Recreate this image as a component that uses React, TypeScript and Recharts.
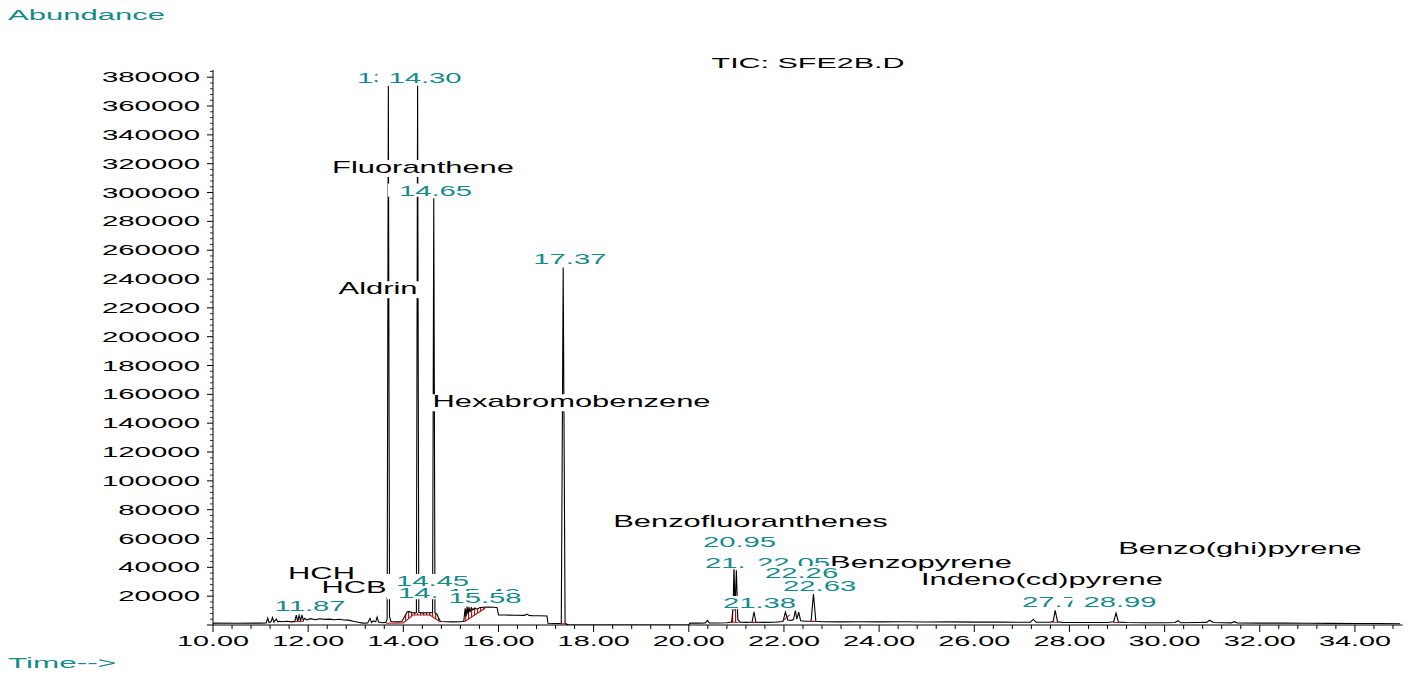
import React from 'react';
import { ComposedChart, Line, Area, Scatter, XAxis, YAxis } from 'recharts';

const WIDTH = 1414;
const HEIGHT = 675;
const TEAL = '#168b8b';
const RED = '#a81818';
const FONT = '"Liberation Sans", Arial, Helvetica, sans-serif';

// Total ion chromatogram: [retention time (min), abundance]
const ticTrace: [number, number][] = [
  [10.0, 1300], [10.5, 1200], [11.0, 1300], [11.12, 1400], [11.15, 4800], [11.18, 1600],
  [11.22, 2400], [11.25, 5200], [11.28, 2000], [11.33, 4200], [11.36, 2200], [11.4, 2600],
  [11.45, 2300], [11.55, 2600], [11.65, 2200], [11.72, 2500], [11.75, 6900], [11.78, 2600],
  [11.81, 6600], [11.84, 3000], [11.87, 7000], [11.9, 3200], [11.93, 4700], [11.97, 3600],
  [12.05, 4400], [12.15, 3700], [12.25, 4300], [12.35, 3900], [12.45, 4100], [12.55, 3600],
  [12.65, 4000], [12.75, 3500], [12.85, 3400], [12.95, 2600], [13.05, 1900], [13.15, 1300],
  [13.25, 1400], [13.3, 4600], [13.33, 1800], [13.37, 2800], [13.42, 2200], [13.45, 5600],
  [13.48, 2000], [13.55, 1600], [13.63, 1800], [13.66, 4000], [13.685, 374000], [13.71, 6000],
  [13.74, 2400], [13.8, 2300], [13.9, 2200], [13.97, 2400], [14.03, 6000], [14.08, 9000],
  [14.12, 9400], [14.18, 8600], [14.24, 8400], [14.275, 8600], [14.3, 374000], [14.325, 8800],
  [14.4, 8400], [14.5, 8500], [14.6, 8600], [14.615, 8800], [14.64, 296000], [14.665, 8400],
  [14.7, 7800], [14.74, 5000], [14.78, 2400], [14.9, 2300], [15.05, 2200], [15.2, 2300],
  [15.27, 2600], [15.3, 11500], [15.32, 6000], [15.34, 12800], [15.36, 7500], [15.38, 12500],
  [15.4, 9000], [15.43, 12000], [15.46, 10500], [15.5, 11800], [15.55, 11000], [15.6, 12000],
  [15.67, 12300], [15.8, 12500], [15.97, 12200], [16.0, 7000], [16.15, 6900], [16.35, 6800],
  [16.55, 6700], [16.6, 7600], [16.64, 6600], [16.7, 6500], [16.85, 6400], [17.02, 6200],
  [17.04, 1200], [17.2, 1000], [17.32, 1100], [17.36, 248000], [17.4, 1000], [17.48, 0],
  [18.0, 0], [19.0, 0], [20.0, 0], [20.02, 1300], [20.2, 1300], [20.35, 1500],
  [20.39, 3200], [20.43, 1500], [20.6, 1400], [20.8, 1600], [20.9, 2000], [20.93, 12000],
  [20.95, 41000], [20.97, 10000], [21.0, 38000], [21.03, 4000], [21.08, 2000], [21.2, 1800],
  [21.33, 1900], [21.37, 9200], [21.41, 1900], [21.6, 1800], [21.8, 1900], [21.98, 2400],
  [22.03, 9000], [22.08, 3500], [22.16, 3200], [22.2, 3800], [22.24, 10000], [22.27, 4000],
  [22.31, 9000], [22.35, 3000], [22.45, 2600], [22.57, 2700], [22.62, 21500], [22.67, 2600],
  [22.8, 2300], [23.2, 2200], [23.6, 2300], [24.0, 2200], [24.5, 2300], [25.0, 2100],
  [25.5, 2200], [26.0, 2000], [26.5, 2000], [27.0, 1900], [27.18, 2000], [27.24, 4000],
  [27.3, 1900], [27.6, 1900], [27.66, 2600], [27.7, 10200], [27.75, 2300], [27.85, 1800],
  [28.3, 1700], [28.8, 1700], [28.93, 2300], [28.98, 8300], [29.03, 2000], [29.2, 1700],
  [29.6, 1600], [30.0, 1600], [30.22, 1700], [30.28, 3000], [30.34, 1600], [30.7, 1700],
  [30.88, 1800], [30.95, 3300], [31.02, 1700], [31.4, 1500], [31.47, 2300], [31.53, 1400],
  [32.0, 1300], [32.5, 1300], [33.0, 1200], [33.5, 1100], [34.0, 1000], [34.5, 1000],
  [34.95, 900],
];

// Integration baselines drawn by the data system: [time, abundance]
const integrationSegments: [number, number][][] = [
  [[11.72, 2300], [11.9, 2600]],
  [[13.64, 1200], [14.0, 1500], [14.2, 6900], [14.56, 6900], [14.77, 2300]],
  [[15.28, 2300], [15.72, 11600]],
  [[17.3, 900], [17.44, 900]],
  [[20.88, 1900], [21.06, 1900]],
  [[21.33, 1800], [21.42, 1800]],
  [[21.95, 2200], [22.12, 7000]],
  [[22.57, 2500], [22.68, 2500]],
  [[27.64, 1900], [27.78, 1900]],
  [[28.92, 1700], [29.05, 1700]],
];

// Hatched integrated areas: [time, baseline, signal]
const hatchRegions: [number, number, number][][] = [
  [[11.75, 2350, 6900], [11.78, 2400, 2600], [11.81, 2450, 6600], [11.84, 2500, 3000], [11.87, 2550, 7000], [11.9, 2600, 3200]],
  [[14.03, 2310, 6000], [14.08, 3660, 9000], [14.12, 4740, 9400], [14.18, 6360, 8600], [14.24, 6900, 8400],
   [14.4, 6900, 8400], [14.5, 6900, 8500], [14.6, 6020, 8600], [14.665, 4600, 8400], [14.7, 3850, 7800],
   [14.74, 2970, 5000], [14.77, 2300, 2500]],
  [[15.3, 2300, 11500], [15.32, 2740, 6000], [15.34, 3190, 12800], [15.36, 3630, 7500], [15.38, 4070, 12500],
   [15.4, 4510, 9000], [15.43, 5180, 12000], [15.46, 5840, 10500], [15.5, 6730, 11800], [15.55, 7830, 11000],
   [15.6, 8940, 12000], [15.67, 10490, 12300], [15.72, 11600, 12350]],
  [[20.9, 1900, 2000], [20.93, 1900, 12000], [20.95, 1900, 41000], [20.97, 1900, 10000], [21.0, 1900, 38000], [21.03, 1900, 4000]],
];

// Retention-time labels (teal), drawn in this order
const rtLabels = ['11.87', '13.70', '14.30', '14.65', '17.37', '14.58', '14.45', '15.43', '15.58',
  '20.95', '21.02', '22.05', '22.26', '22.63', '21.38', '27.74', '28.99'];
const rtTimes = [12.04, 13.794, 14.456, 14.676, 17.5, 14.655, 14.613, 15.7, 15.717,
  21.066, 21.107, 22.2, 22.37, 22.75, 21.487, 27.77, 29.063];
const rtAbundances = [9900, 376300, 376300, 297900, 250100, 18700, 27050, 18035, 15260,
  54100, 39500, 39500, 32600, 23600, 11800, 12500, 12500];

// Compound names (black)
const compoundNames = ['HCH', 'HCB', 'Fluoranthene', 'Aldrin', 'Hexabromobenzene',
  'Benzofluoranthenes', 'Benzopyrene', 'Indeno(cd)pyrene', 'Benzo(ghi)pyrene'];
const compoundTimes = [12.28, 12.963, 14.414, 13.468, 17.535, 21.297, 24.88, 27.423, 31.584];
const compoundAbundances = [31900, 22200, 313700, 229600, 151200, 68000, 39500, 27750, 49200];

const xMajorValues = [10, 12, 14, 16, 18, 20, 22, 24, 26, 28, 30, 32, 34];
const xMajorLabels = ['10.00', '12.00', '14.00', '16.00', '18.00', '20.00', '22.00', '24.00',
  '26.00', '28.00', '30.00', '32.00', '34.00'];
const yMajorValues = [20000, 40000, 60000, 80000, 100000, 120000, 140000, 160000, 180000, 200000,
  220000, 240000, 260000, 280000, 300000, 320000, 340000, 360000, 380000];
const yMajorLabels = ['20000', '40000', '60000', '80000', '100000', '120000', '140000', '160000',
  '180000', '200000', '220000', '240000', '260000', '280000', '300000', '320000', '340000',
  '360000', '380000'];

const xTicks = Array.from({ length: 63 }, (_, i) => (100 + 4 * i) / 10);
const yTicks = Array.from({ length: 97 }, (_, i) => i * 4000);

const GLYPH: Record<string, number> = {
  '.': 0.278, ':': 0.278, ' ': 0.278, '(': 0.333, ')': 0.333, '-': 0.333, '>': 0.584,
  i: 0.222, l: 0.222, j: 0.222, f: 0.278, t: 0.278, r: 0.333, m: 0.833, w: 0.722,
  s: 0.5, c: 0.5, z: 0.5, y: 0.5, x: 0.5, k: 0.5, v: 0.5,
  I: 0.278, F: 0.611, T: 0.611, C: 0.722, D: 0.722, H: 0.722, G: 0.778, O: 0.778,
};
const textWidth = (s: string, fs: number) =>
  s.split('').reduce((acc, c) => acc + (GLYPH[c] ?? (c >= 'A' && c <= 'Z' ? 0.667 : 0.556)), 0) * fs;

function StretchText({ x, y, sx, fs, fill, anchor, children }: any) {
  return (
    <text transform={`translate(${x},${y}) scale(${sx},1)`} fontSize={fs} fill={fill}
      textAnchor={anchor} fontFamily={FONT}>{children}</text>
  );
}

function BoxedLabel({ cx, cy, text, fill, fs, sx, descend }: any) {
  if (cx == null || cy == null) return null;
  const w = textWidth(text, fs) * sx;
  const top = cy - 0.8 * fs;
  const h = 0.8 * fs + (descend ? 0.26 * fs : 0.08 * fs);
  const padLeft = 11;
  const padRight = 2;
  return (
    <g>
      <rect x={cx - w / 2 - padLeft} y={top} width={w + padLeft + padRight} height={h} fill="#fff" />
      <StretchText x={cx} y={cy} sx={sx} fs={fs} fill={fill} anchor="middle">{text}</StretchText>
    </g>
  );
}

function XTick(props: any) {
  const { x, y, payload } = props;
  const v = payload.value;
  const idx = xMajorValues.findIndex((m) => Math.abs(m - v) < 1e-6);
  const major = idx >= 0;
  return (
    <g>
      <line x1={x} x2={x} y1={y} y2={y + (major ? 7 : 4)} stroke="#000" strokeWidth={1} />
      {major && (
        <StretchText x={x} y={y + 21} sx={1.92} fs={15} fill="#000" anchor="middle">{xMajorLabels[idx]}</StretchText>
      )}
    </g>
  );
}

function YTick(props: any) {
  const { x, y, payload } = props;
  const v = payload.value;
  const idx = yMajorValues.indexOf(v);
  const major = v % 20000 === 0;
  return (
    <g>
      <line x1={x - (major ? 6 : 3)} x2={x} y1={y} y2={y} stroke="#000" strokeWidth={major ? 1 : 0.8} />
      {idx >= 0 && (
        <StretchText x={x - 13} y={y + 5} sx={2.1} fs={14} fill="#000" anchor="end">{yMajorLabels[idx]}</StretchText>
      )}
    </g>
  );
}

export default function App() {
  const traceData = ticTrace.map(([t, v]) => ({ t, v }));
  const integData = integrationSegments.flatMap((seg) => [
    ...seg.map(([t, v]) => ({ t, v })),
    { t: seg[seg.length - 1][0] + 0.001, v: null },
  ]);
  const rtData = rtLabels.map((text, i) => ({ t: rtTimes[i], v: rtAbundances[i], text }));
  const nameData = compoundNames.map((text, i) => ({ t: compoundTimes[i], v: compoundAbundances[i], text }));

  return (
    <div style={{ position: 'absolute', left: 0, top: 0, width: WIDTH, height: HEIGHT, background: '#fff' }}>
      <svg width={WIDTH} height={HEIGHT} style={{ position: 'absolute', left: 0, top: 0 }}>
        <defs>
          <pattern id="redHatch" patternUnits="userSpaceOnUse" width="3" height="8">
            <rect x="0" y="0" width="1.2" height="8" fill={RED} />
          </pattern>
        </defs>
        <StretchText x={8} y={20} sx={2.07} fs={15} fill={TEAL} anchor="start">Abundance</StretchText>
        <StretchText x={8} y={668} sx={2.1} fs={15} fill={TEAL} anchor="start">Time--&gt;</StretchText>
        <StretchText x={808} y={67.5} sx={2.03} fs={15} fill="#000" anchor="middle">TIC: SFE2B.D</StretchText>
      </svg>
      <div style={{ position: 'absolute', left: 0, top: 0 }}>
        <ComposedChart width={WIDTH} height={HEIGHT} margin={{ top: 70, right: 11.5, bottom: 20, left: 153 }}>
          <XAxis type="number" dataKey="t" domain={[10, 35]} ticks={xTicks} interval={0}
            tick={<XTick />} tickSize={0} tickMargin={0} tickLine={false}
            axisLine={{ stroke: '#000' }} height={30} allowDataOverflow />
          <YAxis type="number" domain={[0, 385000]} ticks={yTicks} interval={0}
            tick={<YTick />} tickSize={0} tickMargin={0} tickLine={false}
            axisLine={{ stroke: '#000' }} width={60} allowDataOverflow />
          {hatchRegions.map((region, i) => (
            <Area key={`h${i}`} data={region.map(([t, lo, hi]) => ({ t, range: [lo, hi] }))}
              dataKey="range" type="linear" stroke="none" fill="url(#redHatch)" fillOpacity={1}
              isAnimationActive={false} dot={false} activeDot={false} />
          ))}
          <Line data={traceData} dataKey="v" type="linear" stroke="#000" strokeWidth={1.1}
            dot={false} activeDot={false} isAnimationActive={false} />
          <Line data={integData} dataKey="v" type="linear" stroke={RED} strokeWidth={1.1}
            dot={false} activeDot={false} connectNulls={false} isAnimationActive={false} />
          <Scatter data={nameData} dataKey="v" isAnimationActive={false}
            shape={(p: any) => <BoxedLabel cx={p.cx} cy={p.cy} text={p.payload.text} fill="#000" fs={16} sx={1.93} descend />} />
          <Scatter data={rtData} dataKey="v" isAnimationActive={false}
            shape={(p: any) => <BoxedLabel cx={p.cx} cy={p.cy} text={p.payload.text} fill={TEAL} fs={15} sx={1.95} />} />
        </ComposedChart>
      </div>
    </div>
  );
}
